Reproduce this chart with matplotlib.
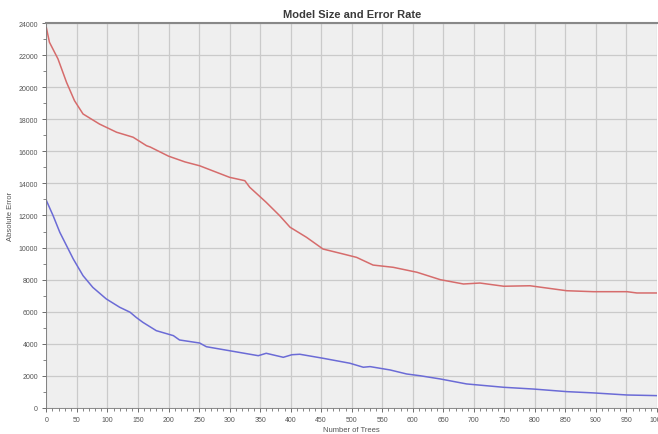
import matplotlib.pyplot as plt
from matplotlib.ticker import MultipleLocator

# valores
arvores_vermelha = [0, 5, 19, 33, 46, 60, 87, 115, 142, 164, 170, 200, 227, 251, 300,
                    325, 333, 360, 382, 399, 426, 453, 486, 508, 535, 568, 607, 645,
                    683, 710, 749, 792, 852, 896, 951, 967, 1000]
erro_vermelha = [23700, 22800, 21760, 20300, 19160, 18330, 17700, 17190, 16880, 16350,
                 16270, 15700, 15340, 15100, 14380, 14170, 13760, 12820, 11990, 11270,
                 10640, 9910, 9600, 9390, 8910, 8770, 8460, 8000, 7730, 7790, 7590,
                 7620, 7310, 7250, 7250, 7170, 7170]

arvores_azul = [0, 11, 22, 33, 44, 60, 76, 98, 120, 137, 147, 158, 180, 208, 218, 251,
                262, 300, 347, 360, 388, 402, 415, 453, 497, 519, 530, 563, 590, 612,
                645, 688, 749, 798, 852, 896, 951, 1000]
erro_azul = [12930, 11990, 10950, 10120, 9290, 8250, 7520, 6800, 6280, 5970, 5650,
             5340, 4820, 4510, 4240, 4050, 3820, 3570, 3260, 3410, 3160, 3320, 3350,
             3100, 2790, 2540, 2580, 2370, 2120, 2010, 1810, 1500, 1290, 1180, 1020,
             940, 810, 770]

plt.rcParams['font.family'] = ['Liberation Sans', 'DejaVu Sans']

fig = plt.figure(figsize=(6.58, 4.35), dpi=100)
ax = fig.add_axes([0.0705, 0.0598, 0.928, 0.885])
ax.set_facecolor('#efefef')

ax.plot(arvores_vermelha, erro_vermelha, color='#d66c6c', linewidth=1.1)
ax.plot(arvores_azul, erro_azul, color='#6b6bd6', linewidth=1.1)

ax.set_xlim(0, 1000)
ax.set_ylim(0, 24000)
ax.xaxis.set_major_locator(MultipleLocator(50))
ax.xaxis.set_minor_locator(MultipleLocator(10))
ax.yaxis.set_major_locator(MultipleLocator(2000))
ax.yaxis.set_minor_locator(MultipleLocator(1000))

ax.grid(True, which='major', color='#cacaca', linewidth=0.9)
ax.set_axisbelow(True)

ax.tick_params(axis='both', which='major', labelsize=5, colors='#555555',
               length=3, width=0.6, pad=3)
ax.tick_params(axis='both', which='minor', length=2, width=0.5, color='#555555')

ax.spines['right'].set_visible(False)
ax.spines['top'].set_color('#888888')
ax.spines['top'].set_linewidth(1.5)
ax.spines['left'].set_color('#777777')
ax.spines['left'].set_linewidth(0.6)
ax.spines['bottom'].set_color('#777777')
ax.spines['bottom'].set_linewidth(0.6)

ax.set_title('Model Size and Error Rate', fontsize=8, fontweight='bold',
             color='#3a3a3a', pad=4)
ax.set_xlabel('Number of Trees', fontsize=5.5, color='#555555', labelpad=2)
ax.set_ylabel('Absolute Error', fontsize=5.5, color='#555555', labelpad=3)

fig.savefig('out.png', dpi=100)
